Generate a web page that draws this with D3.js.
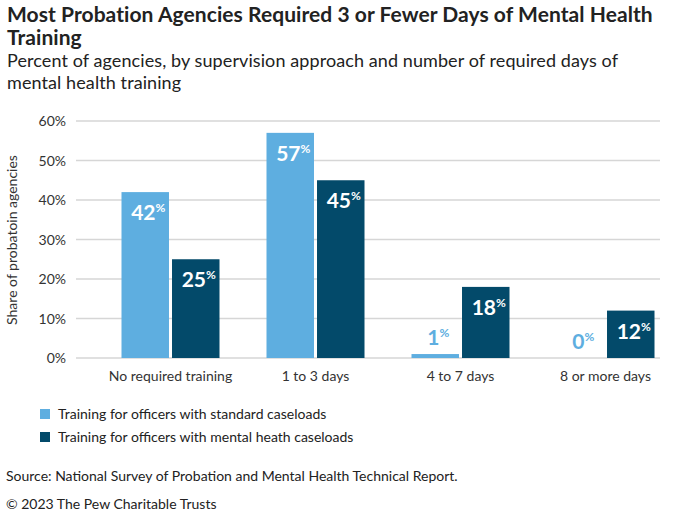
<!DOCTYPE html>
<html><head><meta charset="utf-8">
<script src="https://cdn.jsdelivr.net/npm/d3@7"></script>
<style>
body{margin:0;background:#fff;}
svg{font-family:Lato,"Open Sans",sans-serif;}
</style></head>
<body><svg id="chart" width="680" height="516"></svg>
<script>
const categories = ["No required training","1 to 3 days","4 to 7 days","8 or more days"];
const seriesNames = ["Training for officers with standard caseloads","Training for officers with mental heath caseloads"];
const standardValues = [42,57,1,0];
const mentalHealthValues = [25,45,18,12];
const yTicks = [0,10,20,30,40,50,60];
const colors = ["#5eaee0","#034a6a"];

const svg = d3.select("#chart");
const x0 = d3.scaleBand().domain(categories).range([98,678]);
const x1 = d3.scaleBand().domain([0,1]).range([0,98]).paddingInner(0.06);
const y = d3.scaleLinear().domain([0,60]).range([358,121]);
const gridL = 76, gridR = 660;

function fitText(sel, w){
  const n = sel.text().length;
  const cur = sel.node().getComputedTextLength();
  sel.attr("letter-spacing", ((w-cur)/(n-1)).toFixed(3));
}
// title
const t1 = svg.append("text").attr("x",7).attr("y",22).attr("font-size",21).attr("font-weight",700).attr("fill","#222").text("Most Probation Agencies Required 3 or Fewer Days of Mental Health");
fitText(t1, 646);
svg.append("text").attr("x",7).attr("y",45).attr("font-size",21).attr("font-weight",700).attr("fill","#222").attr("letter-spacing",t1.attr("letter-spacing")).text("Training");
const s1 = svg.append("text").attr("x",7).attr("y",67).attr("font-size",18).attr("fill","#222").text("Percent of agencies, by supervision approach and number of required days of");
fitText(s1, 611);
svg.append("text").attr("x",7).attr("y",89).attr("font-size",18).attr("fill","#222").attr("letter-spacing",s1.attr("letter-spacing")).text("mental health training");

// grid
svg.append("g").selectAll("line").data(yTicks).join("line")
  .attr("x1",gridL).attr("x2",gridR).attr("y1",d=>y(d)).attr("y2",d=>y(d))
  .attr("stroke","#d6d6d6").attr("stroke-width",1.3);
// y axis
const yAxis = d3.axisLeft(y).tickValues(yTicks).tickFormat(d=>d+"%").tickSize(0).tickPadding(0);
const ya = svg.append("g").attr("transform","translate(66,0)").call(yAxis);
ya.select(".domain").remove();
ya.selectAll("text").attr("font-size",14).attr("fill","#333").attr("font-family","Lato").attr("dy","0.35em");
svg.append("text").attr("transform","translate(17,240) rotate(-90)").attr("text-anchor","middle")
  .attr("font-size",14).attr("fill","#333").text("Share of probatoin agencies");

// x axis
const xAxis = d3.axisBottom(x0).tickSize(0).tickPadding(0);
const xa = svg.append("g").attr("transform","translate(0,370)").call(xAxis);
xa.select(".domain").remove();
xa.selectAll("text").attr("font-size",14).attr("fill","#333").attr("font-family","Lato").attr("dy","0.75em");

// bars
const series = [standardValues, mentalHealthValues];
const rows = [];
categories.forEach((c,i)=>series.forEach((s,j)=>rows.push({c, j, v:s[i]})));
const bx = d=>x0(c0(d)) + (x0.bandwidth()-98)/2 + x1(d.j);
function c0(d){return d.c;}
svg.append("g").selectAll("rect").data(rows).join("rect")
  .attr("x",bx).attr("width",x1.bandwidth())
  .attr("y",d=>y(d.v)).attr("height",d=>y(0)-y(d.v))
  .attr("fill",d=>colors[d.j]);

// labels
const lab = svg.append("g").selectAll("text").data(rows).join("text")
  .attr("x",d=>bx(d)+x1.bandwidth()/2+3)
  .attr("y",d=> d.v<5 ? y(d.v)-9 : y(d.v)+28)
  .attr("text-anchor","middle").attr("font-weight",700).attr("font-size",21)
  .attr("fill",d=> d.v<5 ? colors[0] : "#fff");
lab.append("tspan").text(d=>d.v);
lab.append("tspan").attr("font-size",12).attr("dy",-8).text("%");

// legend
const lg = svg.append("g").selectAll("g").data(seriesNames).join("g")
  .attr("transform",(d,i)=>`translate(40,${409+i*23})`);
lg.append("rect").attr("width",10).attr("height",10).attr("fill",(d,i)=>colors[i]);
lg.append("text").attr("x",18).attr("y",10).attr("font-size",14).attr("fill","#222").text(d=>d);

svg.append("text").attr("x",6).attr("y",481).attr("font-size",14).attr("fill","#222").text("Source: National Survey of Probation and Mental Health Technical Report.");
svg.append("text").attr("x",6).attr("y",509).attr("font-size",14).attr("fill","#222").text("© 2023 The Pew Charitable Trusts");
</script></body></html>
